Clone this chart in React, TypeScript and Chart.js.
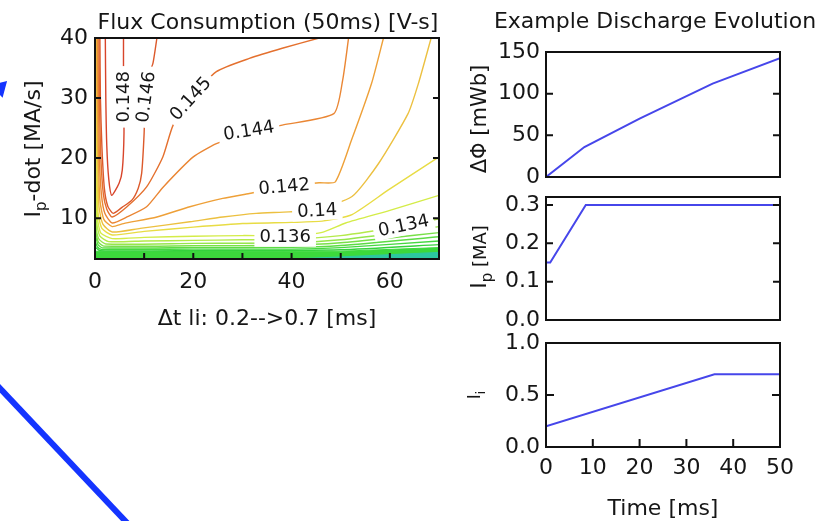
import React, { useEffect, useRef } from "react";
import { Chart, registerables } from "chart.js";
Chart.register(...registerables);

const FONT = "'DejaVu Sans', sans-serif";
const INK = "#161616";
const W = 832;
const H = 521;

// ---------------- Contour plot data (Δt li [ms] , Ip-dot [MA/s]) ----------------
const contourXTicks = [0, 20, 40, 60];
const contourXMinor = [10, 20, 30, 40, 50, 60];
const contourYTicks = [10, 20, 30, 40];
const contourYInner = [10, 20, 30];

const contourLevels = ["0.148", "0.146", "0.145", "0.144", "0.142", "0.140", "0.138", "0.136", "0.134", "0.132", "0.130", "0.128", "0.126", "0.124"];
const contourColors = ["#d8452b", "#dc5a2c", "#e4702e", "#ea8634", "#eea038", "#ecc040", "#e8dc44", "#d4ec48", "#b4ea4a", "#96e64a", "#78e048", "#5cdc44", "#44d840", "#34d23c"];

const c148 = [[2.1, 40], [2.2, 30], [2.4, 22], [2.8, 16.5], [3.4, 13.8], [4.9, 15.8], [5.55, 18], [5.9, 24.2], [5.8, 32], [5.8, 40]];
const c146 = [[1.0, 40], [1.1, 30], [1.4, 22], [1.9, 15], [2.6, 12], [3.7, 10.8], [5.5, 11.8], [7.5, 13], [8.8, 15], [9.5, 17.5], [10, 24.2], [10.2, 30], [11, 34], [11.8, 35.8], [12.6, 40]];
const c145 = [[0.8, 40], [0.9, 30], [1.2, 20], [1.7, 14], [2.4, 11.5], [3.5, 10.2], [6.5, 11.9], [10.5, 15.2], [13.8, 20.2], [15.9, 25.5], [19.6, 30], [24.7, 34.4], [31.4, 36.6], [38.1, 38.3], [45.6, 40]];
const c144 = [[0.6, 40], [0.7, 30], [0.9, 20], [1.3, 14], [2.0, 10.8], [3.5, 9.2], [6.5, 10.2], [10.5, 11.9], [13.9, 15.2], [20, 20.2], [24.7, 22.4], [31.3, 24.3], [38.1, 25.5], [48.6, 27.4], [50.4, 33], [51.6, 40]];
const c142 = [[0.45, 40], [0.5, 30], [0.7, 20], [1.0, 13], [1.8, 9.8], [3.5, 8.6], [5.8, 9.1], [12.6, 10.2], [19.3, 11.9], [26, 13.3], [31.4, 14.1], [38.5, 15.2], [45.6, 15.9], [48.9, 16.05], [52.2, 23], [56.3, 32.5], [58.7, 40]];
const c140 = [[0.35, 40], [0.4, 30], [0.55, 20], [0.8, 12], [1.6, 9], [3.5, 7.7], [9.2, 8.3], [19.3, 9.4], [26, 10.2], [32.8, 10.8], [39.5, 11.05], [45.2, 11.5], [52.3, 13.6], [57.7, 19.1], [63.7, 27.4], [65.8, 32.4], [68.4, 40]];
const c138 = [[0.25, 40], [0.3, 30], [0.4, 20], [0.6, 11], [1.4, 8.3], [3.5, 7.2], [10, 7.8], [20, 8.5], [30, 9.1], [40, 9.3], [46.2, 9.5], [52.3, 10.6], [59.7, 14.7], [70, 20.2]];
const c136 = [[0.2, 40], [0.25, 20], [0.5, 10], [1.2, 7.5], [3.5, 6.6], [10, 6.8], [20, 7.0], [30, 7.1], [38.5, 7.1], [46, 7.6], [51, 9.2], [60, 11.3], [70, 13.8]];
const c134 = [[0.15, 40], [0.2, 20], [0.4, 9], [1.0, 7.0], [2.8, 6.1], [10, 6.2], [20, 6.3], [30, 6.4], [40, 6.5], [50, 7.1], [62.7, 8.7], [70, 9.9]];
const c132 = [[0.1, 40], [0.15, 20], [0.3, 8], [0.8, 6.5], [2.2, 5.7], [20, 5.8], [40, 5.9], [50, 6.4], [60, 7.4], [70, 8.6]];
const c130 = [[0.1, 30], [0.25, 7.5], [0.7, 6.0], [1.8, 5.35], [20, 5.4], [40, 5.5], [50, 5.9], [60, 6.7], [70, 7.6]];
const c128 = [[0.2, 6.8], [0.6, 5.6], [1.5, 5.05], [20, 5.1], [40, 5.15], [50, 5.45], [70, 6.9]];
const c126 = [[0.1, 6], [0.5, 5.2], [1.3, 4.8], [20, 4.85], [40, 4.85], [50, 5.1], [70, 6.2]];
const c124 = [[0, 5.2], [1, 4.6], [20, 4.6], [50, 4.75], [70, 5.6]];
const contourLines = [c148, c146, c145, c144, c142, c140, c138, c136, c134, c132, c130, c128, c126, c124];

const bandGreen = [[0, 4.5], [20, 4.45], [50, 4.5], [70, 5.1]];
const bandTeal = [[40, 3.2], [50, 3.55], [70, 4.3]];

const contourLabelText = ["0.148", "0.146", "0.145", "0.144", "0.142", "0.14", "0.136", "0.134"];
const contourLabelX = [5.8, 10.3, 19.4, 31.3, 38.5, 45.2, 38.7, 62.8];
const contourLabelY = [30.2, 30.2, 29.9, 24.6, 15.3, 11.3, 6.9, 8.8];
const contourLabelAngle = [-90, -82, -48, -9, -5, -3, 0, -12];

// ---------------- Discharge evolution data ----------------
const timeTicks = [0, 10, 20, 30, 40, 50];
const timeInner = [10, 20, 30, 40];

const fluxTime = [0, 8.2, 20, 35.6, 50];
const fluxValues = [0, 36, 70, 112, 142.5];
const fluxTicks = [0, 50, 100, 150];
const fluxInner = [50, 100];

const ipTime = [0, 0.9, 8.5, 50];
const ipValues = [0.15, 0.15, 0.3, 0.3];
const ipTicks = [0, 0.1, 0.2, 0.3];
const ipInner = [0.1, 0.2, 0.3];

const liTime = [0, 36, 50];
const liValues = [0.2, 0.7, 0.7];
const liTicks = [0, 0.5, 1.0];
const liInner = [0.5];

// ---------------- decorative arrow (page units) ----------------
const arrowShaftX = [-5, 130];
const arrowShaftY = [383, 526];
const arrowHeadX = [0];
const arrowHeadY = [88];

type Seg = { t: string; size: number; dy?: number };

function drawRich(ctx: CanvasRenderingContext2D, segs: Seg[], x: number, y: number, rot: number) {
  ctx.save();
  ctx.translate(x, y);
  ctx.rotate((rot * Math.PI) / 180);
  let total = 0;
  const widths = segs.map((s) => {
    ctx.font = `${s.size}px ${FONT}`;
    const w = ctx.measureText(s.t).width;
    total += w;
    return w;
  });
  let cx = -total / 2;
  ctx.fillStyle = INK;
  ctx.textBaseline = "alphabetic";
  ctx.textAlign = "left";
  segs.forEach((s, i) => {
    ctx.font = `${s.size}px ${FONT}`;
    ctx.fillText(s.t, cx, s.dy || 0);
    cx += widths[i];
  });
  ctx.restore();
}

type TextItem = { segs: Seg[]; x: number; y: number; rot: number };

function framePlugin(cfg: {
  bottom?: number[];
  left?: number[];
  right?: number[];
  len: number;
  texts?: TextItem[];
  labels?: boolean;
}) {
  return {
    id: "frame" + Math.random().toString(36).slice(2),
    afterDraw(chart: any) {
      const ctx: CanvasRenderingContext2D = chart.ctx;
      const a = chart.chartArea;
      const xs = chart.scales.x;
      const ys = chart.scales.y;
      ctx.save();
      if (cfg.labels) {
        ctx.save();
        ctx.beginPath();
        ctx.rect(a.left, a.top, a.right - a.left, a.bottom - a.top);
        ctx.clip();
        ctx.font = `18px ${FONT}`;
        contourLabelText.forEach((t, i) => {
          const px = xs.getPixelForValue(contourLabelX[i]);
          const py = ys.getPixelForValue(contourLabelY[i]);
          const w = ctx.measureText(t).width;
          ctx.save();
          ctx.translate(px, py);
          ctx.rotate((contourLabelAngle[i] * Math.PI) / 180);
          ctx.fillStyle = "#ffffff";
          ctx.fillRect(-w / 2 - 5, -10, w + 10, 20);
          ctx.fillStyle = INK;
          ctx.textAlign = "center";
          ctx.textBaseline = "middle";
          ctx.fillText(t, 0, 1);
          ctx.restore();
        });
        ctx.restore();
      }
      ctx.strokeStyle = "#111";
      ctx.lineWidth = 2;
      ctx.strokeRect(a.left, a.top, a.right - a.left, a.bottom - a.top);
      ctx.beginPath();
      (cfg.bottom || []).forEach((v) => {
        const px = xs.getPixelForValue(v);
        ctx.moveTo(px, a.bottom);
        ctx.lineTo(px, a.bottom - cfg.len);
      });
      (cfg.left || []).forEach((v) => {
        const py = ys.getPixelForValue(v);
        ctx.moveTo(a.left, py);
        ctx.lineTo(a.left + cfg.len, py);
      });
      (cfg.right || []).forEach((v) => {
        const py = ys.getPixelForValue(v);
        ctx.moveTo(a.right, py);
        ctx.lineTo(a.right - cfg.len, py);
      });
      ctx.stroke();
      (cfg.texts || []).forEach((t) => drawRich(ctx, t.segs, t.x, t.y, t.rot));
      ctx.restore();
    },
  };
}

function axis(min: number, max: number, ticks: number[], fmt: (v: number) => string, opts: any) {
  return {
    type: "linear",
    min,
    max,
    display: opts.display !== false,
    afterBuildTicks: (s: any) => {
      s.ticks = ticks.map((v) => ({ value: v }));
    },
    afterFit: (s: any) => {
      if (opts.width !== undefined) s.width = opts.width;
      if (opts.height !== undefined) s.height = opts.height;
    },
    grid: { display: false, drawTicks: false },
    border: { display: false },
    ticks: {
      color: INK,
      font: { family: FONT, size: 22 },
      padding: opts.padding || 6,
      autoSkip: false,
      maxRotation: 0,
      minRotation: 0,
      callback: (v: number) => fmt(v),
    },
  };
}

const pts = (arr: number[][]) => arr.map(([x, y]) => ({ x, y }));
const zip = (xs: number[], ys: number[]) => xs.map((x, i) => ({ x, y: ys[i] }));
const BLUE_LINE = "#4646ea";

const baseOptions = {
  animation: false,
  responsive: false,
  events: [],
  plugins: { legend: { display: false }, tooltip: { enabled: false } },
};

function buildConfigs(): any[] {
  const overlay = {
    type: "scatter",
    data: {
      datasets: [
        { data: zip(arrowShaftX, arrowShaftY), showLine: true, borderColor: "#1434ff", borderWidth: 6, pointRadius: 0, clip: false },
        {
          data: zip(arrowHeadX, arrowHeadY),
          pointStyle: "triangle",
          pointRadius: 10,
          rotation: 45,
          backgroundColor: "#1434ff",
          borderColor: "#1434ff",
          borderWidth: 0,
          clip: false,
        },
      ],
    },
    options: {
      ...baseOptions,
      layout: { padding: 0, autoPadding: false },
      scales: {
        x: { type: "linear", min: 0, max: W, display: false },
        y: { type: "linear", min: 0, max: H, reverse: true, display: false },
      },
    },
  };

  const contourDatasets: any[] = contourLines.map((c, i) => ({
    label: contourLevels[i],
    data: pts(c),
    showLine: true,
    borderColor: contourColors[i],
    borderWidth: 1.4,
    pointRadius: 0,
    tension: 0.2,
    fill: false,
  }));
  contourDatasets.push({
    data: pts(bandTeal),
    showLine: true,
    borderColor: "#2cc8a0",
    backgroundColor: "#2cc8a0",
    borderWidth: 1,
    pointRadius: 0,
    fill: "start",
  });
  contourDatasets.push({
    data: pts(bandGreen),
    showLine: true,
    borderColor: "#3cd83c",
    backgroundColor: "#3cd83c",
    borderWidth: 1,
    pointRadius: 0,
    fill: "start",
  });

  const contour = {
    type: "scatter",
    data: { datasets: contourDatasets },
    options: {
      ...baseOptions,
      layout: { padding: { left: 0, top: 38, right: W - 439, bottom: 0 }, autoPadding: false },
      scales: {
        x: axis(0, 70, contourXTicks, (v) => String(v), { height: H - 259, padding: 10 }),
        y: axis(3.2, 40, contourYTicks, (v) => String(v), { width: 95, padding: 7 }),
      },
    },
    plugins: [
      framePlugin({
        bottom: contourXMinor,
        left: contourYInner,
        right: contourYInner,
        len: 6,
        labels: true,
        texts: [
          { segs: [{ t: "Flux Consumption (50ms) [V-s]", size: 22 }], x: 268, y: 29, rot: 0 },
          { segs: [{ t: "Δt li: 0.2-->0.7 [ms]", size: 22 }], x: 267, y: 325, rot: 0 },
          {
            segs: [
              { t: "I", size: 22 },
              { t: "p", size: 15, dy: 6 },
              { t: "-dot [MA/s]", size: 22 },
            ],
            x: 40,
            y: 149,
            rot: -90,
          },
          { segs: [{ t: "Example Discharge Evolution", size: 22 }], x: 655, y: 28, rot: 0 },
          { segs: [{ t: "Time [ms]", size: 22 }], x: 663, y: 515, rot: 0 },
        ],
      }),
    ],
  };

  const lineDs = (xs: number[], ys: number[]) => [
    { data: zip(xs, ys), showLine: true, borderColor: BLUE_LINE, borderWidth: 2, pointRadius: 0, tension: 0 },
  ];

  const flux = {
    type: "scatter",
    data: { datasets: lineDs(fluxTime, fluxValues) },
    options: {
      ...baseOptions,
      layout: { padding: { left: 450, top: 52, right: W - 780, bottom: H - 177 }, autoPadding: false },
      scales: {
        x: axis(0, 50, timeTicks, (v) => String(v), { display: false }),
        y: axis(0, 150, fluxTicks, (v) => String(v), { width: 96, padding: 6 }),
      },
    },
    plugins: [
      framePlugin({
        left: fluxInner,
        right: fluxInner,
        len: 7,
        texts: [{ segs: [{ t: "ΔΦ [mWb]", size: 21 }], x: 486, y: 119, rot: -90 }],
      }),
    ],
  };

  const ip = {
    type: "scatter",
    data: { datasets: lineDs(ipTime, ipValues) },
    options: {
      ...baseOptions,
      layout: { padding: { left: 450, top: 197, right: W - 780, bottom: H - 320 }, autoPadding: false },
      scales: {
        x: axis(0, 50, timeTicks, (v) => String(v), { display: false }),
        y: axis(0, 0.321, ipTicks, (v) => v.toFixed(1), { width: 96, padding: 6 }),
      },
    },
    plugins: [
      framePlugin({
        left: ipInner,
        right: ipInner,
        len: 7,
        texts: [
          {
            segs: [
              { t: "I", size: 22 },
              { t: "p", size: 15, dy: 6 },
              { t: " [MA]", size: 18 },
            ],
            x: 486,
            y: 257,
            rot: -90,
          },
        ],
      }),
    ],
  };

  const li = {
    type: "scatter",
    data: { datasets: lineDs(liTime, liValues) },
    options: {
      ...baseOptions,
      layout: { padding: { left: 450, top: 343, right: W - 780, bottom: 0 }, autoPadding: false },
      scales: {
        x: axis(0, 50, timeTicks, (v) => String(v), { height: H - 447, padding: 8 }),
        y: axis(0, 1.0, liTicks, (v) => v.toFixed(1), { width: 96, padding: 6 }),
      },
    },
    plugins: [
      framePlugin({
        bottom: timeInner,
        left: liInner,
        right: liInner,
        len: 8,
        texts: [
          {
            segs: [
              { t: "I", size: 17 },
              { t: "i", size: 12, dy: 5 },
            ],
            x: 480,
            y: 395,
            rot: -90,
          },
        ],
      }),
    ],
  };

  return [overlay, contour, flux, ip, li];
}

export default function App() {
  const refs = [useRef<HTMLCanvasElement>(null), useRef<HTMLCanvasElement>(null), useRef<HTMLCanvasElement>(null), useRef<HTMLCanvasElement>(null), useRef<HTMLCanvasElement>(null)];
  useEffect(() => {
    const configs = buildConfigs();
    const charts = configs.map((cfg, i) => new Chart(refs[i].current as HTMLCanvasElement, cfg));
    return () => charts.forEach((c) => c.destroy());
  }, []);
  return (
    <div style={{ position: "fixed", left: 0, top: 0, width: W, height: H, background: "#fff", overflow: "hidden" }}>
      {refs.map((r, i) => (
        <canvas
          key={i}
          ref={r}
          width={W}
          height={H}
          style={{ position: "absolute", left: 0, top: 0, width: W, height: H }}
        />
      ))}
    </div>
  );
}
